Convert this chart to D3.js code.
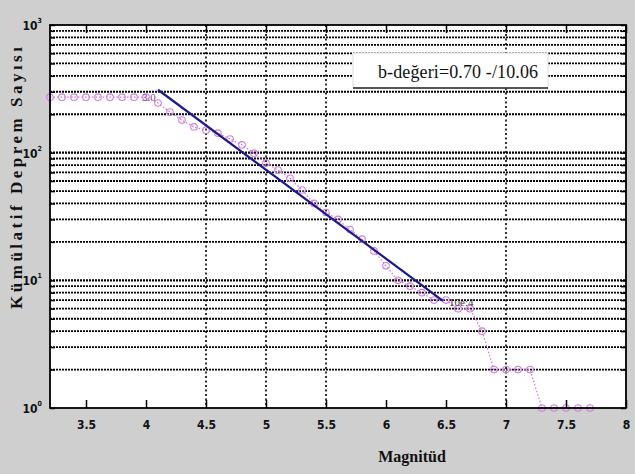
<!DOCTYPE html>
<html>
<head>
<meta charset="utf-8">
<script src="https://cdn.jsdelivr.net/npm/d3@7"></script>
<style>
  body { margin: 0; background: #cfcfcf; }
  svg { display: block; }
</style>
</head>
<body>
<svg id="chart" width="635" height="474"></svg>
<script>
// magnitude bins and cumulative counts
var magnitudes = [3.2, 3.3, 3.4, 3.5, 3.6, 3.7, 3.8, 3.9, 4.0, 4.1,
	4.2, 4.3, 4.4, 4.5, 4.6, 4.7, 4.8, 4.9, 5.0, 5.1,
	5.2, 5.3, 5.4, 5.5, 5.6, 5.7, 5.8, 5.9, 6.0, 6.1,
	6.2, 6.3, 6.4, 6.5, 6.6, 6.7, 6.8, 6.9, 7.0, 7.1,
	7.2, 7.3, 7.4, 7.5, 7.6, 7.7];
var cumulativeCounts = [272, 272, 272, 272, 272, 272, 272, 272, 272, 245,
	208, 180, 159, 150, 142, 128, 115, 99, 83, 73,
	63, 51, 40, 34, 30, 25, 21, 17, 13, 10,
	9, 8, 7, 7, 6, 6, 4, 2, 2, 2,
	2, 1, 1, 1, 1, 1];

// end points of the fitted line
var fitM = [4.1, 6.475];
var fitN = [311, 6.9];

var xTicks = [3.5, 4, 4.5, 5, 5.5, 6, 6.5, 7, 7.5, 8];
var xGridAt = [4.5, 5, 5.5, 7];
var yMajor = [1, 10, 100, 1000];
var yExp = ["0", "1", "2", "3"];

var legendText = "b-değeri=0.70 -/10.06";
var startLabel = "3.0";
var endLabel = "10e:4";

var svg = d3.select("#chart");
var margin = { top: 25, right: 9, bottom: 66, left: 50 };
var W = 635 - margin.left - margin.right;
var H = 474 - margin.top - margin.bottom;

var x = d3.scaleLinear().domain([3.2, 8]).range([0, W]);
var y = d3.scaleLog().domain([1, 1000]).range([H, 0]);

var g = svg.append("g").attr("transform", "translate(" + margin.left + "," + margin.top + ")");

g.append("rect").attr("width", W).attr("height", H).attr("fill", "#fff");

// horizontal grid on every log tick
var minor = [];
yMajor.slice(0, 3).forEach(function(d) {
	for (var k = 1; k < 10; k++) minor.push(d * k);
});
g.selectAll("line.hgrid")
	.data(minor.filter(function(d) { return d > 1; }))
	.enter().append("line")
	.attr("class", "hgrid")
	.attr("x1", 0).attr("x2", W)
	.attr("y1", function(d) { return y(d); })
	.attr("y2", function(d) { return y(d); })
	.attr("stroke", "#000")
	.attr("stroke-width", function(d) { return yMajor.indexOf(d) >= 0 ? 2.2 : 1.8; })
	.attr("stroke-dasharray", "2,1");

g.selectAll("line.vgrid")
	.data(xGridAt)
	.enter().append("line")
	.attr("class", "vgrid")
	.attr("x1", function(d) { return x(d); })
	.attr("x2", function(d) { return x(d); })
	.attr("y1", 0).attr("y2", H)
	.attr("stroke", "#000")
	.attr("stroke-width", 1.6)
	.attr("stroke-dasharray", "2,2.5");

// legend box over the grid
var lg = g.append("g").attr("transform", "translate(303,28)");
lg.append("rect").attr("width", 195).attr("height", 35).attr("fill", "#fff")
	.attr("stroke", "#ddd").attr("stroke-width", 1);
lg.append("line").attr("x1", 0).attr("x2", 195).attr("y1", 35).attr("y2", 35)
	.attr("stroke", "#222").attr("stroke-width", 1.5);
lg.append("text")
	.attr("x", 25).attr("y", 25)
	.attr("font-family", "'Liberation Serif', 'Times New Roman', serif")
	.attr("font-size", 18)
	.attr("textLength", 160)
	.attr("fill", "#111")
	.text(legendText);

// data
var pts = magnitudes.map(function(m, i) { return [m, cumulativeCounts[i]]; });
var line = d3.line().x(function(d) { return x(d[0]); }).y(function(d) { return y(d[1]); });

g.append("path")
	.datum(pts)
	.attr("d", line)
	.attr("fill", "none")
	.attr("stroke", "#d36ee0")
	.attr("stroke-width", 1.2)
	.attr("stroke-dasharray", "1.5,2");

g.selectAll("circle.pt")
	.data(pts)
	.enter().append("circle")
	.attr("class", "pt")
	.attr("cx", function(d) { return x(d[0]); })
	.attr("cy", function(d) { return y(d[1]); })
	.attr("r", 3.3)
	.attr("fill", "none")
	.attr("stroke", "#d27ee2")
	.attr("stroke-width", 1.1);

g.append("path")
	.datum(fitM.map(function(m, i) { return [m, fitN[i]]; }))
	.attr("d", line)
	.attr("fill", "none")
	.attr("stroke", "#1a1a8c")
	.attr("stroke-width", 2.2);

g.append("text")
	.attr("x", x(fitM[0]) - 16).attr("y", y(fitN[0]) + 11)
	.attr("font-family", "'Liberation Serif', serif")
	.attr("font-size", 11)
	.attr("fill", "#7a4a90")
	.text(startLabel);
g.append("text")
	.attr("x", x(fitM[1]) + 6).attr("y", y(fitN[1]) + 5)
	.attr("font-family", "'Liberation Serif', serif")
	.attr("font-size", 11)
	.attr("fill", "#333")
	.text(endLabel);

// axis box and inward ticks
g.append("rect").attr("width", W).attr("height", H)
	.attr("fill", "none").attr("stroke", "#000").attr("stroke-width", 1.8);

var tickFont = "'Liberation Sans Narrow', 'DejaVu Sans Condensed', sans-serif";

var xb = g.append("g").attr("transform", "translate(0," + H + ")")
	.call(d3.axisBottom(x).tickValues(xTicks).tickSizeInner(-8).tickSizeOuter(0).tickPadding(12)
		.tickFormat(d3.format("")));
var xt = g.append("g")
	.call(d3.axisTop(x).tickValues(xTicks).tickSizeInner(-8).tickSizeOuter(0).tickFormat(""));

var yl = g.append("g")
	.call(d3.axisLeft(y).tickValues(minor.concat([1000])).tickSizeOuter(0)
		.tickSizeInner(-5).tickFormat(""));
var yr = g.append("g").attr("transform", "translate(" + W + ",0)")
	.call(d3.axisRight(y).tickValues(minor.concat([1000])).tickSizeOuter(0)
		.tickSizeInner(-5).tickFormat(""));

[xb, xt, yl, yr].forEach(function(a) {
	a.select(".domain").remove();
	a.selectAll("line").attr("stroke", "#000").attr("stroke-width", 1.5);
});
xb.selectAll("text")
	.attr("font-family", tickFont)
	.attr("font-weight", "bold")
	.attr("font-size", 12)
	.attr("fill", "#111");

// y tick labels as 10 with superscript exponent
var yLab = g.selectAll("text.ylab")
	.data(yMajor)
	.enter().append("text")
	.attr("class", "ylab")
	.attr("x", -8)
	.attr("y", function(d) { return y(d) + 5; })
	.attr("text-anchor", "end")
	.attr("font-family", tickFont)
	.attr("font-weight", "bold")
	.attr("font-size", 12)
	.attr("fill", "#111");
yLab.append("tspan").text("10");
yLab.append("tspan")
	.attr("dy", -7)
	.attr("font-size", 7)
	.text(function(d, i) { return yExp[i]; });

// axis titles
svg.append("text")
	.attr("transform", "translate(22,178) rotate(-90)")
	.attr("text-anchor", "middle")
	.attr("font-family", "'Liberation Serif', 'Times New Roman', serif")
	.attr("font-weight", "bold")
	.attr("font-size", 17)
	.attr("textLength", 262)
	.attr("fill", "#111")
	.text("Kümülatif Deprem Sayısı");

svg.append("text")
	.attr("x", 412).attr("y", 462)
	.attr("text-anchor", "middle")
	.attr("font-family", "'Liberation Serif', 'Times New Roman', serif")
	.attr("font-weight", "bold")
	.attr("font-size", 16)
	.attr("fill", "#111")
	.text("Magnitüd");
</script>
</body>
</html>
